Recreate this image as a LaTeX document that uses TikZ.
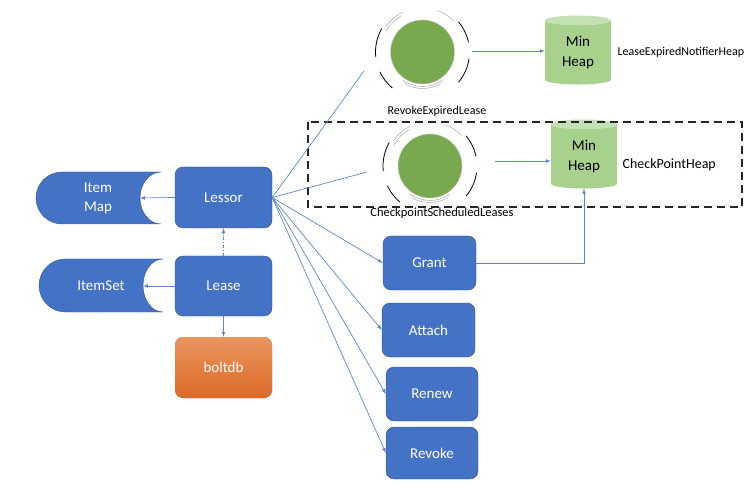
\documentclass[tikz,border=0pt]{standalone}
\usepackage{fontspec}
\setmainfont{Carlito}
\usepackage{xcolor}
\usepackage{tikz}
\usetikzlibrary{shapes.geometric,arrows}

\definecolor{boxblue}{HTML}{4472C4}
\definecolor{boxedge}{HTML}{2F528F}
\definecolor{linkblue}{HTML}{5B84D0}
\definecolor{dotgreen}{HTML}{78A94E}
\definecolor{heapgreen}{HTML}{A9D18E}
\definecolor{heaptop}{HTML}{C5E0B4}
\definecolor{dbtop}{HTML}{EA955F}
\definecolor{dbbottom}{HTML}{DC6A27}

\tikzset{
	opbox/.style={draw=boxedge, fill=boxblue, rounded corners=8pt, text=white,
		font=\fontsize{15}{18}\selectfont, minimum width=93pt, minimum height=54pt},
	storetext/.style={text=white, align=center, font=\fontsize{15}{19}\selectfont},
	heap/.style={cylinder, shape border rotate=90, aspect=0.3, cylinder uses custom fill,
		cylinder body fill=heapgreen, cylinder end fill=heaptop, minimum width=66pt,
		minimum height=69pt, inner sep=0pt, align=center, font=\fontsize{15}{20}\selectfont},
	timer/.style={circle, fill=dotgreen, draw=gray!40, minimum size=64pt, inner sep=0pt},
	notelabel/.style={font=\fontsize{12}{14}\selectfont},
	link/.style={draw=linkblue, line width=0.7pt, -latex},
	ringdark/.style={black, line width=0.8pt},
	ringlight/.style={gray!70, line width=0.5pt}
}

\begin{document}
\begin{tikzpicture}[x=1pt, y=1pt]
	\useasboundingbox (0,0) rectangle (751,-502);
	
	%Left column
	\node[opbox, minimum width=97pt, minimum height=61pt] (lessor) at (223.5,-197.5) {Lessor};
	\node[opbox, minimum width=97pt, minimum height=60pt] (lease) at (223.5,-286) {Lease};
	\node[opbox, draw=none, top color=dbtop, bottom color=dbbottom, minimum width=97pt,
		minimum height=61pt] (boltdb) at (223.5,-367.5) {boltdb};
	
	%Stores
	\filldraw[fill=boxblue, draw=boxedge, line width=0.4pt] (161,-172) -- (62,-172)
		arc[start angle=90, end angle=270, radius=26] -- (161,-224)
		arc[start angle=270, end angle=90, x radius=21, y radius=26] -- cycle;
	\node[storetext] (itemmap) at (98,-198) {Item\\Map};
	\coordinate (mapdoor) at (140,-198);
	
	\filldraw[fill=boxblue, draw=boxedge, line width=0.4pt] (163,-259) -- (65.5,-259)
		arc[start angle=90, end angle=270, radius=26.5] -- (163,-312)
		arc[start angle=270, end angle=90, x radius=20, y radius=26.5] -- cycle;
	\node[storetext] (itemset) at (101,-286) {ItemSet};
	\coordinate (setdoor) at (143,-286);
	
	%Right column
	\node[opbox] (grant) at (429.5,-263) {Grant};
	\node[opbox] (attach) at (428.5,-330) {Attach};
	\node[opbox, minimum width=92pt] (renew) at (432,-394) {Renew};
	\node[opbox, minimum width=92pt, minimum height=52pt] (revoke) at (432,-453) {Revoke};
	
	%Timers
	\node[timer] (expiry) at (422.5,-52) {};
	\node[timer] (checkpt) at (430,-166) {};
	\foreach \t in {expiry, checkpt} {
		\begin{scope}[shift={(\t.center)}]
			\foreach \a/\b in {150/186, 205/230, 12/40, -40/-8}
				\draw[ringdark] (\a:47) arc[start angle=\a, end angle=\b, radius=47];
			\draw[ringlight] (120:42) arc[start angle=120, end angle=150, radius=42];
			\draw[ringlight] (116:44.5) arc[start angle=116, end angle=146, radius=44.5];
			\draw[ringlight] (45:44) arc[start angle=45, end angle=70, radius=44];
			\draw[ringlight] (235:34.5) arc[start angle=235, end angle=305, radius=34.5];
			\draw[ringlight] (240:36.5) arc[start angle=240, end angle=300, radius=36.5];
		\end{scope}
	}
	\node[notelabel] (expirylabel) at (437,-111) {RevokeExpiredLease};
	\node[notelabel, font=\fontsize{12.5}{14}\selectfont] (checkptlabel) at (442,-213) {CheckpointScheduledLeases};
	
	%Heaps
	\node[heap] (expiryheap) at (578,-52.5) {Min\\Heap};
	\node[heap] (checkptheap) at (584,-156.5) {Min\\Heap};
	\node[notelabel, anchor=west] (expiryname) at (614,-52) {LeaseExpiredNotifierHeap};
	\node[notelabel, anchor=west, font=\fontsize{14}{16}\selectfont] (checkptname) at (619,-165) {CheckPointHeap};
	
	%Frame
	\draw[black!85, line width=1.3pt, dash pattern=on 8pt off 5pt] (308,-122) rectangle (742,-207);
	
	%Lines
	\coordinate (expiryin) at (364,-71);
	\coordinate (checkptin) at (367,-172);
	\coordinate (expiryout) at (472,-51);
	\coordinate (checkptout) at (495,-161);
	\draw[link] (lessor.west) -- (mapdoor);
	\draw[link] (lease.west) -- (setdoor);
	\draw[link, dash dot] (lease.north) -- (lessor.south);
	\draw[link] (lease.south) -- (boltdb.north);
	\draw[link, -] (lessor.east) -- (expiryin);
	\draw[link, -] (lessor.east) -- (checkptin);
	\draw[link] (lessor.east) -- (grant.west);
	\draw[link] (lessor.east) -- (attach.west);
	\draw[link] (lessor.east) -- (renew.west);
	\draw[link] (lessor.east) -- (revoke.west);
	\draw[link] (expiryout) -- (expiryout -| expiryheap.west);
	\draw[link] (checkptout) -- (checkptout -| checkptheap.west);
	\draw[link] (grant.east) -| (checkptheap.south);
\end{tikzpicture}
\end{document}
